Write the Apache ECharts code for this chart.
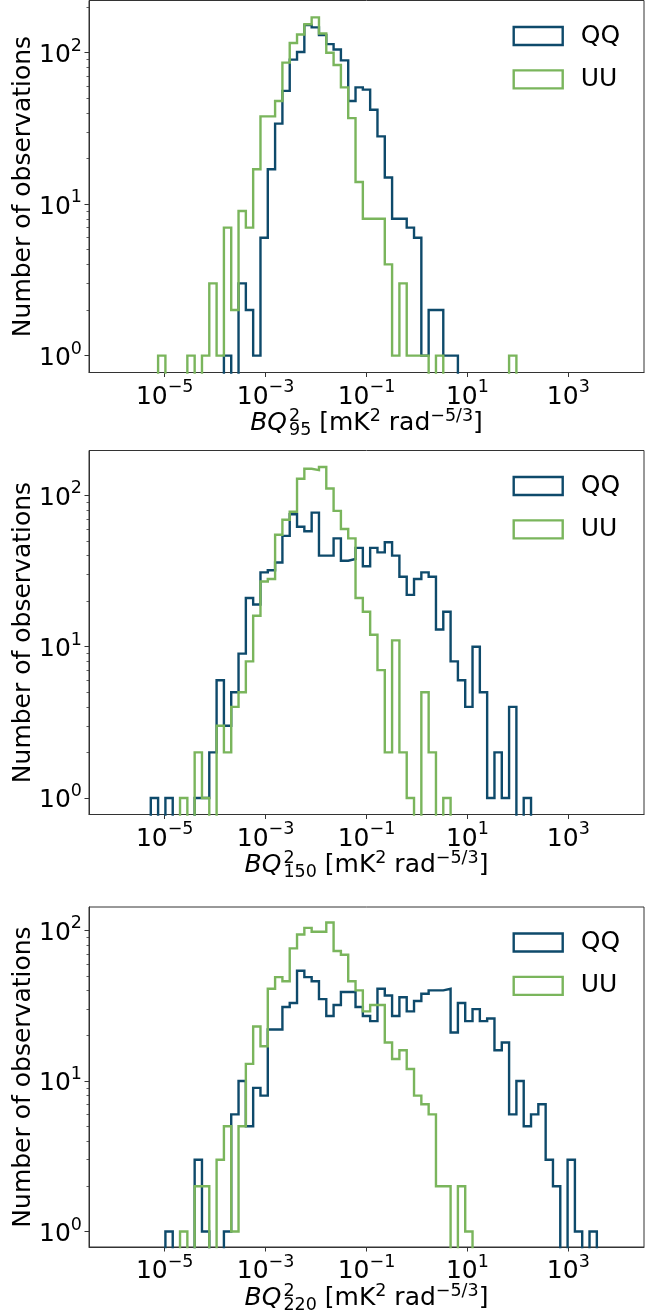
<!DOCTYPE html>
<html><head><meta charset="utf-8">
<script src="https://cdn.jsdelivr.net/npm/echarts@6/dist/echarts.min.js"></script>
<style>html,body{margin:0;padding:0;background:#fff}#c{width:660px;height:1315px}</style>
</head><body><div id="c"></div>
<script>
// ---------------- data ----------------
// histogram bins: 69 log-spaced bins from 1e-6 to 1e4
const binLogMin = -6;
const binLogMax = 4;
const binCount = 69;
const seriesNames = ['QQ', 'UU'];
const freqLabels = ['95', '150', '220'];
const xTickValues = [1e-5, 1e-3, 1e-1, 1e1, 1e3];
const yTickValues = [1, 10, 100];

// counts per bin (index 0..68)
const qq95 = [0,0,0,0,0, 0,0,0,0,0, 0,0,0,0,0, 1,0,3,2,1, 6,17,34,56,90, 101,152,147,131,114, 105,89,48,59,57, 42,28,15,8,8, 7,6,1,2,2, 1,1,0,0,0, 0,0,0,0,0, 0,0,0,0,0, 0,0,0,0,0, 0,0,0,0];
const uu95 = [0,0,0,0,0, 0,1,0,0,0, 1,0,1,3,1, 7,2,9,7,17, 38,38,48,86,116, 132,154,171,134,100, 83,59,37,14,8, 8,8,4,1,3, 1,1,1,0,1, 0,0,0,0,0, 0,0,0,0,1, 0,0,0,0,0, 0,0,0,0,0, 0,0,0,0];
const qq150 = [0,0,0,0,0, 1,0,1,0,0, 0,1,1,2,6, 3,5,9,21,19, 31,32,36,54,75, 62,58,77,40,40, 52,37,38,45,34, 45,42,49,40,29, 22,28,31,29,13, 17,8,6,4,10, 5,1,2,1,4, 0,1,0,0,0, 0,0,0,0,0, 0,0,0,0];
const uu150 = [0,0,0,0,0, 0,0,0,0,1, 0,2,1,0,3, 2,4,5,8,16, 27,28,55,69,78, 129,150,147,154,111, 79,60,52,21,17, 12,7,2,11,2, 1,0,5,2,0, 1,0,0,0,0, 0,0,0,0,0, 0,0,0,0,0, 0,0,0,0,0, 0,0,0,0];
const qq220 = [0,0,0,0,0, 0,0,1,0,0, 0,3,1,0,0, 1,6,10,5,9, 8,22,22,31,33, 54,49,46,35,27, 32,39,39,31,27, 25,41,37,27,36, 29,34,38,40,40, 41,21,33,25,30, 25,26,16,18,6, 10,5,6,7,3, 2,0,3,1,0, 1,0,0,0];
const uu220 = [0,0,0,0,0, 0,0,0,0,1, 0,2,2,0,3, 5,1,5,13,23, 17,41,49,46,76, 94,104,98,98,113, 73,69,46,40,29, 32,32,18,14,16, 12,8,7,6,2, 2,0,2,1,0, 0,0,0,0,0, 0,0,0,0,0, 0,0,0,0,0, 0,0,0,0];

const panelQQ = [qq95, qq150, qq220];
const panelUU = [uu95, uu150, uu220];

// ---------------- layout / style ----------------
const FONT = 'DejaVu Sans';
const FS = 25;      // main font size
const FSS = 17.5;   // super/subscript size
const C_QQ = '#0e4a6b';
const C_UU = '#7ab55c';
const SPINE = '#333333';
const gridLeft = 89;
const gridWidth = 555;
const gridTops = [0.5, 450.5, 907];
const gridHeights = [372, 364, 342];

const edges = [];
for (let k = 0; k <= binCount; k++) {
  edges.push(Math.pow(10, binLogMin + (binLogMax - binLogMin) * k / binCount));
}
const ZERO_FLOOR = 1e-3; // empty bins fall below the visible axis range
function stepData(counts) {
  const pts = [];
  for (let i = 0; i < counts.length; i++) {
    const v = counts[i] > 0 ? counts[i] : ZERO_FLOOR;
    pts.push([edges[i], v], [edges[i + 1], v]);
  }
  return pts;
}
function expLabel(v) {
  const e = Math.round(Math.log10(v));
  return '{b|10}{s|' + (e < 0 ? '\u2212' + (-e) : String(e)) + '}';
}
const labelRich = {
  b: {fontSize: FS, fontFamily: FONT, color: '#000', lineHeight: 31, verticalAlign: 'bottom'},
  s: {fontSize: FSS, fontFamily: FONT, color: '#000', lineHeight: 17, verticalAlign: 'top'}
};
const nameRich = {
  i: {fontSize: FS, fontFamily: FONT, fontStyle: 'italic', color: '#000', lineHeight: 32, align: 'left', padding: [0, 2, 0, 0]},
  t: {fontSize: FS, fontFamily: FONT, color: '#000', lineHeight: 32, align: 'left'},
  sp: {fontSize: FSS, fontFamily: FONT, color: '#000', lineHeight: 16, verticalAlign: 'top', width: 0, align: 'left'},
  sb: {fontSize: FSS, fontFamily: FONT, color: '#000', lineHeight: 16, verticalAlign: 'bottom', align: 'left'},
  sp2: {fontSize: FSS, fontFamily: FONT, color: '#000', lineHeight: 16, verticalAlign: 'top', align: 'left'}
};

const grids = [], xAxes = [], yAxes = [], series = [], legends = [];
for (let g = 0; g < 3; g++) {
  const maxCount = Math.max.apply(null, panelQQ[g].concat(panelUU[g]));
  const L = Math.log10(maxCount);
  const yMin = Math.pow(10, -0.05 * L), yMax = Math.pow(10, 1.05 * L);
  const minors = [];
  for (let d = 0; d <= 2; d++) for (let m = 2; m <= 9; m++) minors.push(m * Math.pow(10, d));

  grids.push({left: gridLeft, top: gridTops[g], width: gridWidth, height: gridHeights[g],
    show: true, borderColor: SPINE, borderWidth: 1, backgroundColor: '#fff', containLabel: false});

  xAxes.push({
    type: 'log', logBase: 10, gridIndex: g, position: 'bottom',
    min: Math.pow(10, binLogMin - 0.05 * (binLogMax - binLogMin)),
    max: Math.pow(10, binLogMax + 0.05 * (binLogMax - binLogMin)),
    axisLine: {show: true, lineStyle: {color: SPINE, width: 1}},
    axisTick: {show: true, length: 4.5, lineStyle: {color: SPINE, width: 1}, customValues: xTickValues},
    axisLabel: {show: true, customValues: xTickValues, formatter: expLabel, rich: labelRich, margin: 6},
    splitLine: {show: false}, minorTick: {show: false},
    name: '{i|BQ}{sp|2}{sb|' + freqLabels[g] + '}{t| [mK}{sp2|2}{t| rad}{sp2|\u22125/3}{t|]}',
    nameLocation: 'middle', nameGap: 35, nameMoveOverlap: false,
    nameTextStyle: {rich: nameRich}
  });
  yAxes.push({
    type: 'log', logBase: 10, gridIndex: g, position: 'left', min: yMin, max: yMax,
    axisLine: {show: true, lineStyle: {color: SPINE, width: 1}},
    axisTick: {show: true, length: 4.5, lineStyle: {color: SPINE, width: 1}, customValues: yTickValues},
    axisLabel: {show: true, customValues: yTickValues, formatter: expLabel, rich: labelRich, margin: 7},
    splitLine: {show: false},
    name: 'Number of observations', nameLocation: 'middle', nameRotate: 90, nameGap: 53,
    nameMoveOverlap: false,
    nameTextStyle: {fontSize: FS, fontFamily: FONT, color: '#000', lineHeight: 25}
  });
  yAxes.push({
    type: 'log', logBase: 10, gridIndex: g, position: 'left', offset: 0, min: yMin, max: yMax,
    axisLine: {show: false},
    axisTick: {show: true, length: 2.5, lineStyle: {color: SPINE, width: 0.8}, customValues: minors},
    axisLabel: {show: false}, splitLine: {show: false}
  });

  const yIdx = g * 2;
  series.push({
    name: seriesNames[0], type: 'line', xAxisIndex: g, yAxisIndex: yIdx,
    data: stepData(panelQQ[g]), showSymbol: false, symbol: 'none', clip: true,
    lineStyle: {color: C_QQ, width: 2.4, join: 'miter', cap: 'butt'}, itemStyle: {color: C_QQ},
    animation: false
  });
  series.push({
    name: seriesNames[1], type: 'line', xAxisIndex: g, yAxisIndex: yIdx,
    data: stepData(panelUU[g]), showSymbol: false, symbol: 'none', clip: true,
    lineStyle: {color: C_UU, width: 2.4, join: 'miter', cap: 'butt'}, itemStyle: {color: C_UU},
    animation: false
  });

  legends.push({
    orient: 'vertical', left: 512.5, top: gridTops[g] + 23,
    itemWidth: 49, itemHeight: 18, itemGap: 18.4, icon: 'rect', padding: 0,
    selectedMode: false,
    textStyle: {fontSize: FS, fontFamily: FONT, color: '#000', padding: [0, 0, 0, 13], lineHeight: 18},
    data: [
      {name: seriesNames[0], icon: 'rect', itemStyle: {color: 'rgba(0,0,0,0)', borderColor: C_QQ, borderWidth: 2.4}},
      {name: seriesNames[1], icon: 'rect', itemStyle: {color: 'rgba(0,0,0,0)', borderColor: C_UU, borderWidth: 2.4}}
    ]
  });
}

const chart = echarts.init(document.getElementById('c'), null, {renderer: 'canvas'});
chart.setOption({
  animation: false,
  backgroundColor: '#ffffff',
  grid: grids, xAxis: xAxes, yAxis: yAxes, series: series, legend: legends
});
</script>
</body></html>
